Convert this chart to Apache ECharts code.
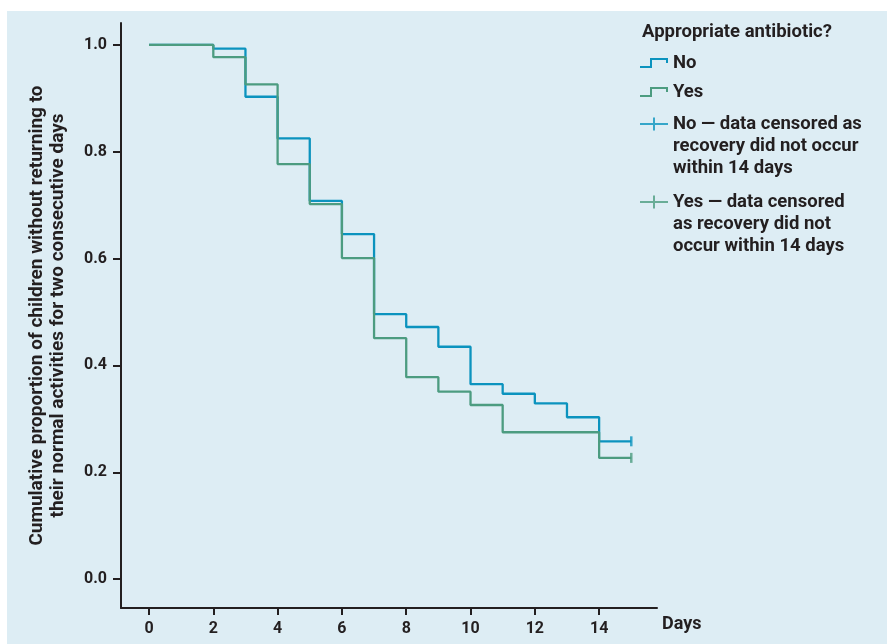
<!DOCTYPE html>
<html>
<head>
<meta charset="utf-8">
<script src="https://cdn.jsdelivr.net/npm/echarts@6/dist/echarts.min.js"></script>
<style>
  html, body { margin: 0; padding: 0; background: #ffffff; }
  #bg { position: absolute; left: 7px; top: 11px; width: 880px; height: 633px; background: #ddedf4; }
  #chart { position: absolute; left: 0; top: 0; width: 887px; height: 644px; }
</style>
</head>
<body>
<div id="bg"></div>
<div id="chart"></div>
<script>
// Kaplan-Meier steps
const noDays = [0, 2, 3, 4, 5, 6, 7, 8, 9, 10, 11, 12, 13, 14, 15];
const noValues = [1.0, 0.993, 0.903, 0.825, 0.708, 0.646, 0.496, 0.472, 0.435, 0.365, 0.347, 0.329, 0.303, 0.258, 0.258];
const yesDays = [0, 2, 3, 4, 5, 6, 7, 8, 9, 10, 11, 14, 15];
const yesValues = [1.0, 0.977, 0.926, 0.777, 0.702, 0.601, 0.451, 0.378, 0.351, 0.326, 0.275, 0.227, 0.227];
const censorDay = 15;
const xTicks = [0, 2, 4, 6, 8, 10, 12, 14];
const yTicks = [0, 0.2, 0.4, 0.6, 0.8, 1.0];

const blue = '#0b93be';
const green = '#4c9c80';
const ink = '#231f20';
const font = 'Roboto, "Liberation Sans", sans-serif';

const stepIcon = 'path://M0,8H12V10H0Z M10,0H12V10H10Z M10,0H28V2H10Z M26,0H28V5H26Z';
const plusIcon = 'path://M0,5.5H28V7.5H0Z M13,0H15V13H13Z';

function pairs(xs, ys) {
  return xs.map(function (x, i) { return [x, ys[i]]; });
}

// multi-line labels get two empty lines in front so the first line sits on the icon
function legendAt(top, name, icon, label, multi) {
  return {
    left: 640, top: top, padding: 0,
    selectedMode: false,
    itemWidth: 28, itemHeight: multi ? 13 : 10,
    itemStyle: { borderWidth: 0 },
    data: [{ name: name, icon: icon }],
    formatter: function () { return multi ? '\n\n' + label : label; },
    textStyle: { fontFamily: font, fontWeight: 'bold', fontSize: 18.5, lineHeight: 22, color: ink }
  };
}

const chart = echarts.init(document.getElementById('chart'));
chart.setOption({
  backgroundColor: 'transparent',
  animation: false,
  title: {
    text: 'Appropriate antibiotic?',
    left: 642, top: 21, padding: 0,
    textStyle: { fontFamily: font, fontWeight: 'bold', fontSize: 18.5, lineHeight: 22, color: ink }
  },
  legend: [
    legendAt(52, 'No', stepIcon, 'No', false),
    legendAt(81, 'Yes', stepIcon, 'Yes', false),
    legendAt(69, 'No censored', plusIcon, 'No \u2014 data censored as\nrecovery did not occur\nwithin 14 days', true),
    legendAt(147, 'Yes censored', plusIcon, 'Yes \u2014 data censored\nas recovery did not\noccur within 14 days', true)
  ],
  grid: { left: 121, top: 23, right: 230, bottom: 36 },
  xAxis: {
    type: 'value',
    min: -0.871, max: 15.8,
    name: 'Days',
    nameLocation: 'end',
    nameGap: 5,
    nameTextStyle: {
      fontFamily: font, fontWeight: 'bold', fontSize: 18, color: ink,
      verticalAlign: 'top', align: 'left', padding: [7, 0, 0, 0]
    },
    splitLine: { show: false },
    axisLine: { onZero: false, lineStyle: { color: ink, width: 2 } },
    axisTick: { customValues: xTicks, length: 7, lineStyle: { color: ink, width: 2 } },
    axisLabel: {
      customValues: xTicks, margin: 13,
      fontFamily: font, fontWeight: 'bold', fontSize: 16, color: ink
    }
  },
  yAxis: {
    type: 'value',
    min: -0.054, max: 1.041,
    name: 'Cumulative proportion of children without returning to\ntheir normal activities for two consecutive days',
    nameLocation: 'middle',
    nameGap: 52,
    nameTextStyle: { fontFamily: font, fontWeight: 'bold', fontSize: 19, lineHeight: 21, color: ink },
    splitLine: { show: false },
    axisLine: { onZero: false, lineStyle: { color: ink, width: 2 } },
    axisTick: { customValues: yTicks, length: 8, lineStyle: { color: ink, width: 2 } },
    axisLabel: {
      customValues: yTicks, margin: 14,
      formatter: function (v) { return v.toFixed(1); },
      fontFamily: font, fontWeight: 'bold', fontSize: 16, color: ink
    }
  },
  series: [
    {
      name: 'No', type: 'line', step: 'end', symbol: 'none',
      data: pairs(noDays, noValues),
      itemStyle: { color: blue },
      lineStyle: { color: blue, width: 2.3 },
      z: 3
    },
    {
      name: 'Yes', type: 'line', step: 'end', symbol: 'none',
      data: pairs(yesDays, yesValues),
      itemStyle: { color: green },
      lineStyle: { color: green, width: 2.3 },
      z: 4
    },
    {
      name: 'No censored', type: 'scatter',
      symbol: 'rect', symbolSize: [2.5, 10],
      data: [[censorDay, noValues[noValues.length - 1]]],
      itemStyle: { color: blue }
    },
    {
      name: 'Yes censored', type: 'scatter',
      symbol: 'rect', symbolSize: [2.5, 10],
      data: [[censorDay, yesValues[yesValues.length - 1]]],
      itemStyle: { color: green }
    }
  ]
});
</script>
</body>
</html>
